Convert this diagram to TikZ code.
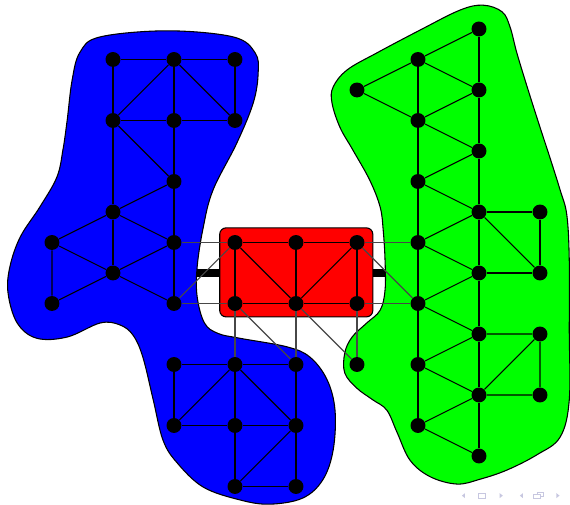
\documentclass[tikz,border=0pt]{standalone}
\usepackage{xcolor}
\usepackage{tikz}
\definecolor{NavGray}{rgb}{0.78, 0.78, 0.88}
\usetikzlibrary{
	calc,
	positioning
}

\begin{document}
\begin{tikzpicture}[
		vertex/.style={circle, fill=black, inner sep=0pt, minimum size=0.245cm},
		link/.style={black, line width=0.5pt},
		bridge/.style={black!72, line width=0.5pt},
		blob/.style={draw=black, line width=0.5pt},
		navsym/.style={fill=NavGray, draw=none}
	]
		\useasboundingbox (-0.852,0.475) rectangle (8.492,-7.803);

		\coordinate (bluehub) at (2,-4);
		\coordinate (greenhub) at (6,-4);
		\draw[line width=3.3pt] (bluehub) -- (greenhub);

		% the three regions
		\filldraw[blob, fill=blue] plot[smooth cycle, tension=0.6] coordinates {
			(0.46,-0.38) (0.79,-0.13) (1.89,-0.03) (2.97,-0.13) (3.33,-0.39) (3.38,-0.72)
			(3.30,-1.21) (3.03,-1.87) (2.64,-2.64) (2.48,-3.25) (2.38,-3.90) (2.38,-4.39)
			(2.50,-4.82) (2.72,-4.99) (3.08,-5.07) (3.85,-5.21) (4.23,-5.38) (4.51,-5.75)
			(4.64,-6.25) (4.61,-6.90) (4.44,-7.39) (4.11,-7.69) (3.57,-7.79) (3.08,-7.72)
			(2.48,-7.51) (2.05,-7.11) (1.82,-6.74) (1.66,-6.08) (1.49,-5.38) (1.33,-5.02)
			(1.11,-4.85) (0.79,-4.82) (0.25,-5.05) (-0.25,-5.07) (-0.57,-4.82) (-0.72,-4.33)
			(-0.69,-3.90) (-0.52,-3.41) (-0.20,-2.92) (0.08,-2.43) (0.18,-1.98) (0.25,-1.49)
			(0.33,-0.84)};
		\filldraw[blob, fill=green] plot[smooth cycle, tension=0.6] coordinates {
			(7.07,0.39) (7.38,0.28) (7.51,0.03) (7.62,-0.39) (7.79,-0.95) (8.00,-1.61)
			(8.16,-2.10) (8.33,-2.64) (8.44,-3.05) (8.48,-3.79) (8.48,-4.93) (8.48,-6.08)
			(8.33,-6.69) (7.95,-6.98) (7.46,-7.23) (7.02,-7.38) (6.64,-7.46) (6.20,-7.34)
			(5.87,-7.07) (5.66,-6.62) (5.49,-6.25) (5.26,-6.08) (5.00,-5.89) (4.80,-5.64)
			(4.80,-5.31) (4.92,-5.05) (5.16,-4.82) (5.38,-4.61) (5.46,-4.28) (5.46,-3.79)
			(5.43,-3.30) (5.38,-2.92) (5.21,-2.48) (4.93,-1.98) (4.72,-1.61) (4.59,-1.21)
			(4.61,-0.95) (4.84,-0.67) (5.33,-0.39) (6.03,-0.02) (6.69,0.31)};
		\filldraw[blob, fill=red, rounded corners=3pt] (2.75,-3.26) rectangle (5.26,-4.72);

		% left cluster
		\node[vertex] (b1-1) at (1,-0.5) {};
		\node[vertex] (b2-1) at (2,-0.5) {};
		\node[vertex] (b3-1) at (3,-0.5) {};
		\node[vertex] (b1-3) at (1,-1.5) {};
		\node[vertex] (b2-3) at (2,-1.5) {};
		\node[vertex] (b3-3) at (3,-1.5) {};
		\node[vertex] (b2-5) at (2,-2.5) {};
		\node[vertex] (b1-6) at (1,-3) {};
		\node[vertex] (b0-7) at (0,-3.5) {};
		\node[vertex] (b2-7) at (2,-3.5) {};
		\node[vertex] (b1-8) at (1,-4) {};
		\node[vertex] (b0-9) at (0,-4.5) {};
		\node[vertex] (b2-9) at (2,-4.5) {};
		\node[vertex] (b2-11) at (2,-5.5) {};
		\node[vertex] (b3-11) at (3,-5.5) {};
		\node[vertex] (b4-11) at (4,-5.5) {};
		\node[vertex] (b2-13) at (2,-6.5) {};
		\node[vertex] (b3-13) at (3,-6.5) {};
		\node[vertex] (b4-13) at (4,-6.5) {};
		\node[vertex] (b3-15) at (3,-7.5) {};
		\node[vertex] (b4-15) at (4,-7.5) {};

		% middle cluster
		\node[vertex] (r3-7) at (3,-3.5) {};
		\node[vertex] (r4-7) at (4,-3.5) {};
		\node[vertex] (r5-7) at (5,-3.5) {};
		\node[vertex] (r3-9) at (3,-4.5) {};
		\node[vertex] (r4-9) at (4,-4.5) {};
		\node[vertex] (r5-9) at (5,-4.5) {};

		% right cluster
		\node[vertex] (g7-0) at (7,0) {};
		\node[vertex] (g6-1) at (6,-0.5) {};
		\node[vertex] (g5-2) at (5,-1) {};
		\node[vertex] (g7-2) at (7,-1) {};
		\node[vertex] (g6-3) at (6,-1.5) {};
		\node[vertex] (g7-4) at (7,-2) {};
		\node[vertex] (g6-5) at (6,-2.5) {};
		\node[vertex] (g7-6) at (7,-3) {};
		\node[vertex] (g8-6) at (8,-3) {};
		\node[vertex] (g6-7) at (6,-3.5) {};
		\node[vertex] (g7-8) at (7,-4) {};
		\node[vertex] (g8-8) at (8,-4) {};
		\node[vertex] (g6-9) at (6,-4.5) {};
		\node[vertex] (g7-10) at (7,-5) {};
		\node[vertex] (g8-10) at (8,-5) {};
		\node[vertex] (g5-11) at (5,-5.5) {};
		\node[vertex] (g6-11) at (6,-5.5) {};
		\node[vertex] (g7-12) at (7,-6) {};
		\node[vertex] (g8-12) at (8,-6) {};
		\node[vertex] (g6-13) at (6,-6.5) {};
		\node[vertex] (g7-14) at (7,-7) {};

		\draw[link] (b1-1) -- (b2-1) -- (b3-1) -- (b3-3) -- (b2-3) -- (b1-3) -- (b1-1);
		\draw[link] (b1-3) -- (b2-1) -- (b3-3);
		\draw[link] (b2-1) -- (b2-3) -- (b2-5) -- (b2-7) -- (b2-9);
		\draw[link] (b1-3) -- (b1-6) -- (b1-8);
		\draw[link] (b1-3) -- (b2-5) -- (b1-6);
		\draw[link] (b1-6) -- (b0-7) -- (b1-8) -- (b2-7) -- (b1-6);
		\draw[link] (b0-7) -- (b0-9) -- (b1-8) -- (b2-9);

		\draw[link] (b2-11) -- (b3-11) -- (b4-11) -- (b4-13) -- (b4-15) -- (b3-15) -- (b3-13) -- (b3-11);
		\draw[link] (b2-11) -- (b2-13) -- (b3-13) -- (b4-13);
		\draw[link] (b2-13) -- (b3-11) -- (b4-13) -- (b3-15);

		\draw[link] (r3-7) -- (r4-7) -- (r5-7) -- (r5-9) -- (r4-9) -- (r3-9) -- (r3-7);
		\draw[link] (r3-7) -- (r4-9) -- (r5-7);
		\draw[link] (r4-7) -- (r4-9);

		\draw[link] (g7-0) -- (g7-2) -- (g7-4) -- (g7-6) -- (g7-8) -- (g7-10) -- (g7-12) -- (g7-14);
		\draw[link] (g6-1) -- (g6-3) -- (g6-5) -- (g6-7) -- (g6-9) -- (g6-11) -- (g6-13);
		\draw[link] (g7-0) -- (g6-1) -- (g5-2) -- (g6-3) -- (g7-2) -- (g6-1);
		\draw[link] (g6-3) -- (g7-4) -- (g6-5) -- (g7-6) -- (g6-7) -- (g7-8) -- (g6-9)
			-- (g7-10) -- (g6-11) -- (g7-12) -- (g6-13) -- (g7-14);
		\draw[link] (g7-6) -- (g8-6) -- (g8-8) -- (g7-8);
		\draw[link] (g7-6) -- (g8-8);
		\draw[link] (g7-10) -- (g8-10) -- (g8-12) -- (g7-12) -- (g8-10);

		% edges between the clusters
		\draw[bridge] (b2-7) -- (r3-7);
		\draw[bridge] (b2-9) -- (r3-9);
		\draw[bridge] (b2-9) -- (r3-7);
		\draw[bridge] (r3-9) -- (b3-11);
		\draw[bridge] (r3-9) -- (b4-11);
		\draw[bridge] (r4-9) -- (b4-11);
		\draw[bridge] (r4-9) -- (g5-11);
		\draw[bridge] (r5-9) -- (g5-11);
		\draw[bridge] (r5-7) -- (g6-7);
		\draw[bridge] (r5-7) -- (g6-9);
		\draw[bridge] (r5-9) -- (g6-9);

		% navigation symbols
		\fill[navsym] (6.72,-7.65) -- (6.77,-7.61) -- (6.77,-7.69) -- cycle;
		\draw[NavGray] (6.99,-7.61) rectangle (7.10,-7.69);
		\fill[navsym] (7.39,-7.65) -- (7.34,-7.61) -- (7.34,-7.69) -- cycle;
		\fill[navsym] (7.67,-7.65) -- (7.72,-7.61) -- (7.72,-7.69) -- cycle;
		\draw[NavGray] (7.95,-7.59) rectangle (8.05,-7.66);
		\filldraw[NavGray, fill=white] (7.90,-7.63) rectangle (8.00,-7.69);
		\fill[navsym] (8.32,-7.65) -- (8.27,-7.61) -- (8.27,-7.69) -- cycle;

	\end{tikzpicture}
\end{document}
